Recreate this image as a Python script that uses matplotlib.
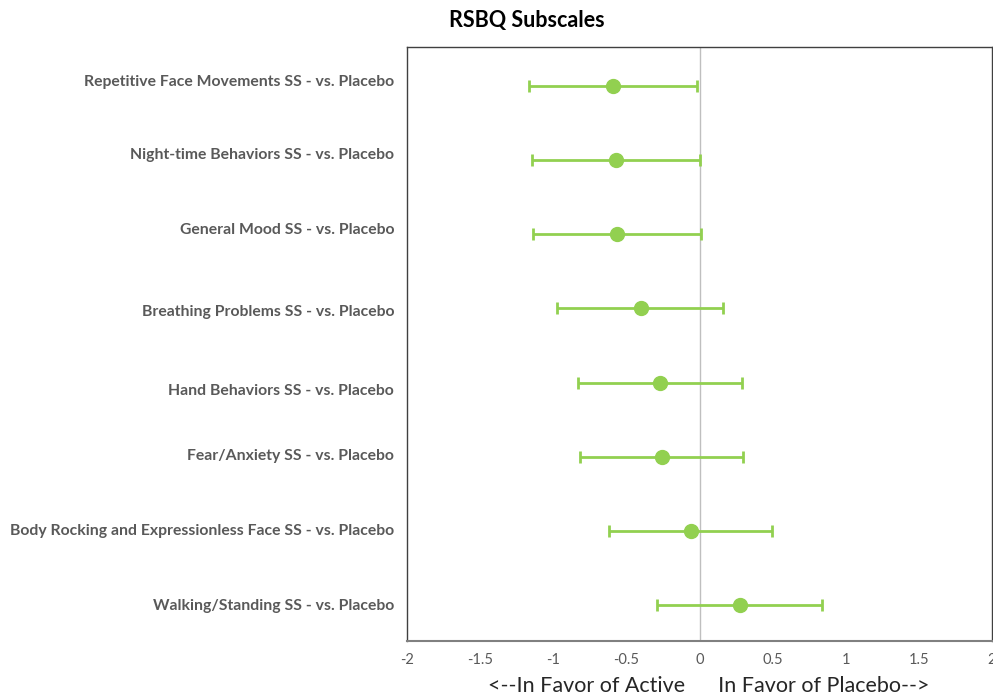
import matplotlib
matplotlib.use("Agg")
import matplotlib.pyplot as plt
import numpy as np

plt.rcParams['font.family'] = ['Lato', 'DejaVu Sans']

# subscales, top to bottom
labels = ['Repetitive Face Movements SS - vs. Placebo',
          'Night-time Behaviors SS - vs. Placebo',
          'General Mood SS - vs. Placebo',
          'Breathing Problems SS - vs. Placebo',
          'Hand Behaviors SS - vs. Placebo',
          'Fear/Anxiety SS - vs. Placebo',
          'Body Rocking and Expressionless Face SS - vs. Placebo',
          'Walking/Standing SS - vs. Placebo']
est = [-0.590, -0.569, -0.564, -0.400, -0.268, -0.256, -0.058, 0.277]
lower = [-1.164, -1.144, -1.137, -0.973, -0.829, -0.817, -0.619, -0.291]
upper = [-0.017, 0.005, 0.010, 0.163, 0.293, 0.300, 0.498, 0.840]

xticks = [-2, -1.5, -1, -0.5, 0, 0.5, 1, 1.5, 2]

# small vertical shifts of the labels (pixels, + = up), as in the original
label_nudge_px = [4, 5, 4, -4, -8, 1, 0, -1]

green = '#92d050'

fig = plt.figure(figsize=(9.93, 6.98), dpi=100)
ax = fig.add_axes([407/993, 57/698, 585/993, 594/698])

n = len(labels)
y = np.arange(n, 0, -1)
est = np.array(est)
err = np.vstack([est - np.array(lower), np.array(upper) - est])

ax.axvline(0, color='#bfbfbf', lw=1, zorder=1)
ax.errorbar(est, y, xerr=err, fmt='o', color=green, ecolor=green,
            markersize=10, elinewidth=2, capsize=4, capthick=2, zorder=3)

ax.set_xlim(-2, 2)
ax.set_ylim(0.514, n + 0.526)
ax.set_xticks(xticks)
ax.set_xticklabels([f'{t:g}' for t in xticks], color='#595959', fontsize=10.5)
ax.tick_params(axis='x', length=0, pad=9)
ax.set_yticks([])

for sp in ax.spines.values():
    sp.set_color('#404040')
    sp.set_linewidth(1)
ax.spines['bottom'].set_color('#808080')
ax.spines['bottom'].set_linewidth(1.5)

for lab, yy, dy in zip(labels, y, label_nudge_px):
    ax.annotate(lab, xy=(0, yy), xycoords=('axes fraction', 'data'),
                xytext=(-13, dy), textcoords='offset pixels',
                ha='right', va='center', fontsize=11.3, fontweight='bold',
                color='#595959')

fig.text(527/993, 1 - 20/698, 'RSBQ Subscales', ha='center', va='center',
         fontsize=15.5, fontweight='bold', color='black')
fig.text(709/993, 1 - 686/698,
         '<--In Favor of Active      In Favor of Placebo-->',
         ha='center', va='center', fontsize=15.5, color='#262626')

fig.savefig('out.png', dpi=100)
